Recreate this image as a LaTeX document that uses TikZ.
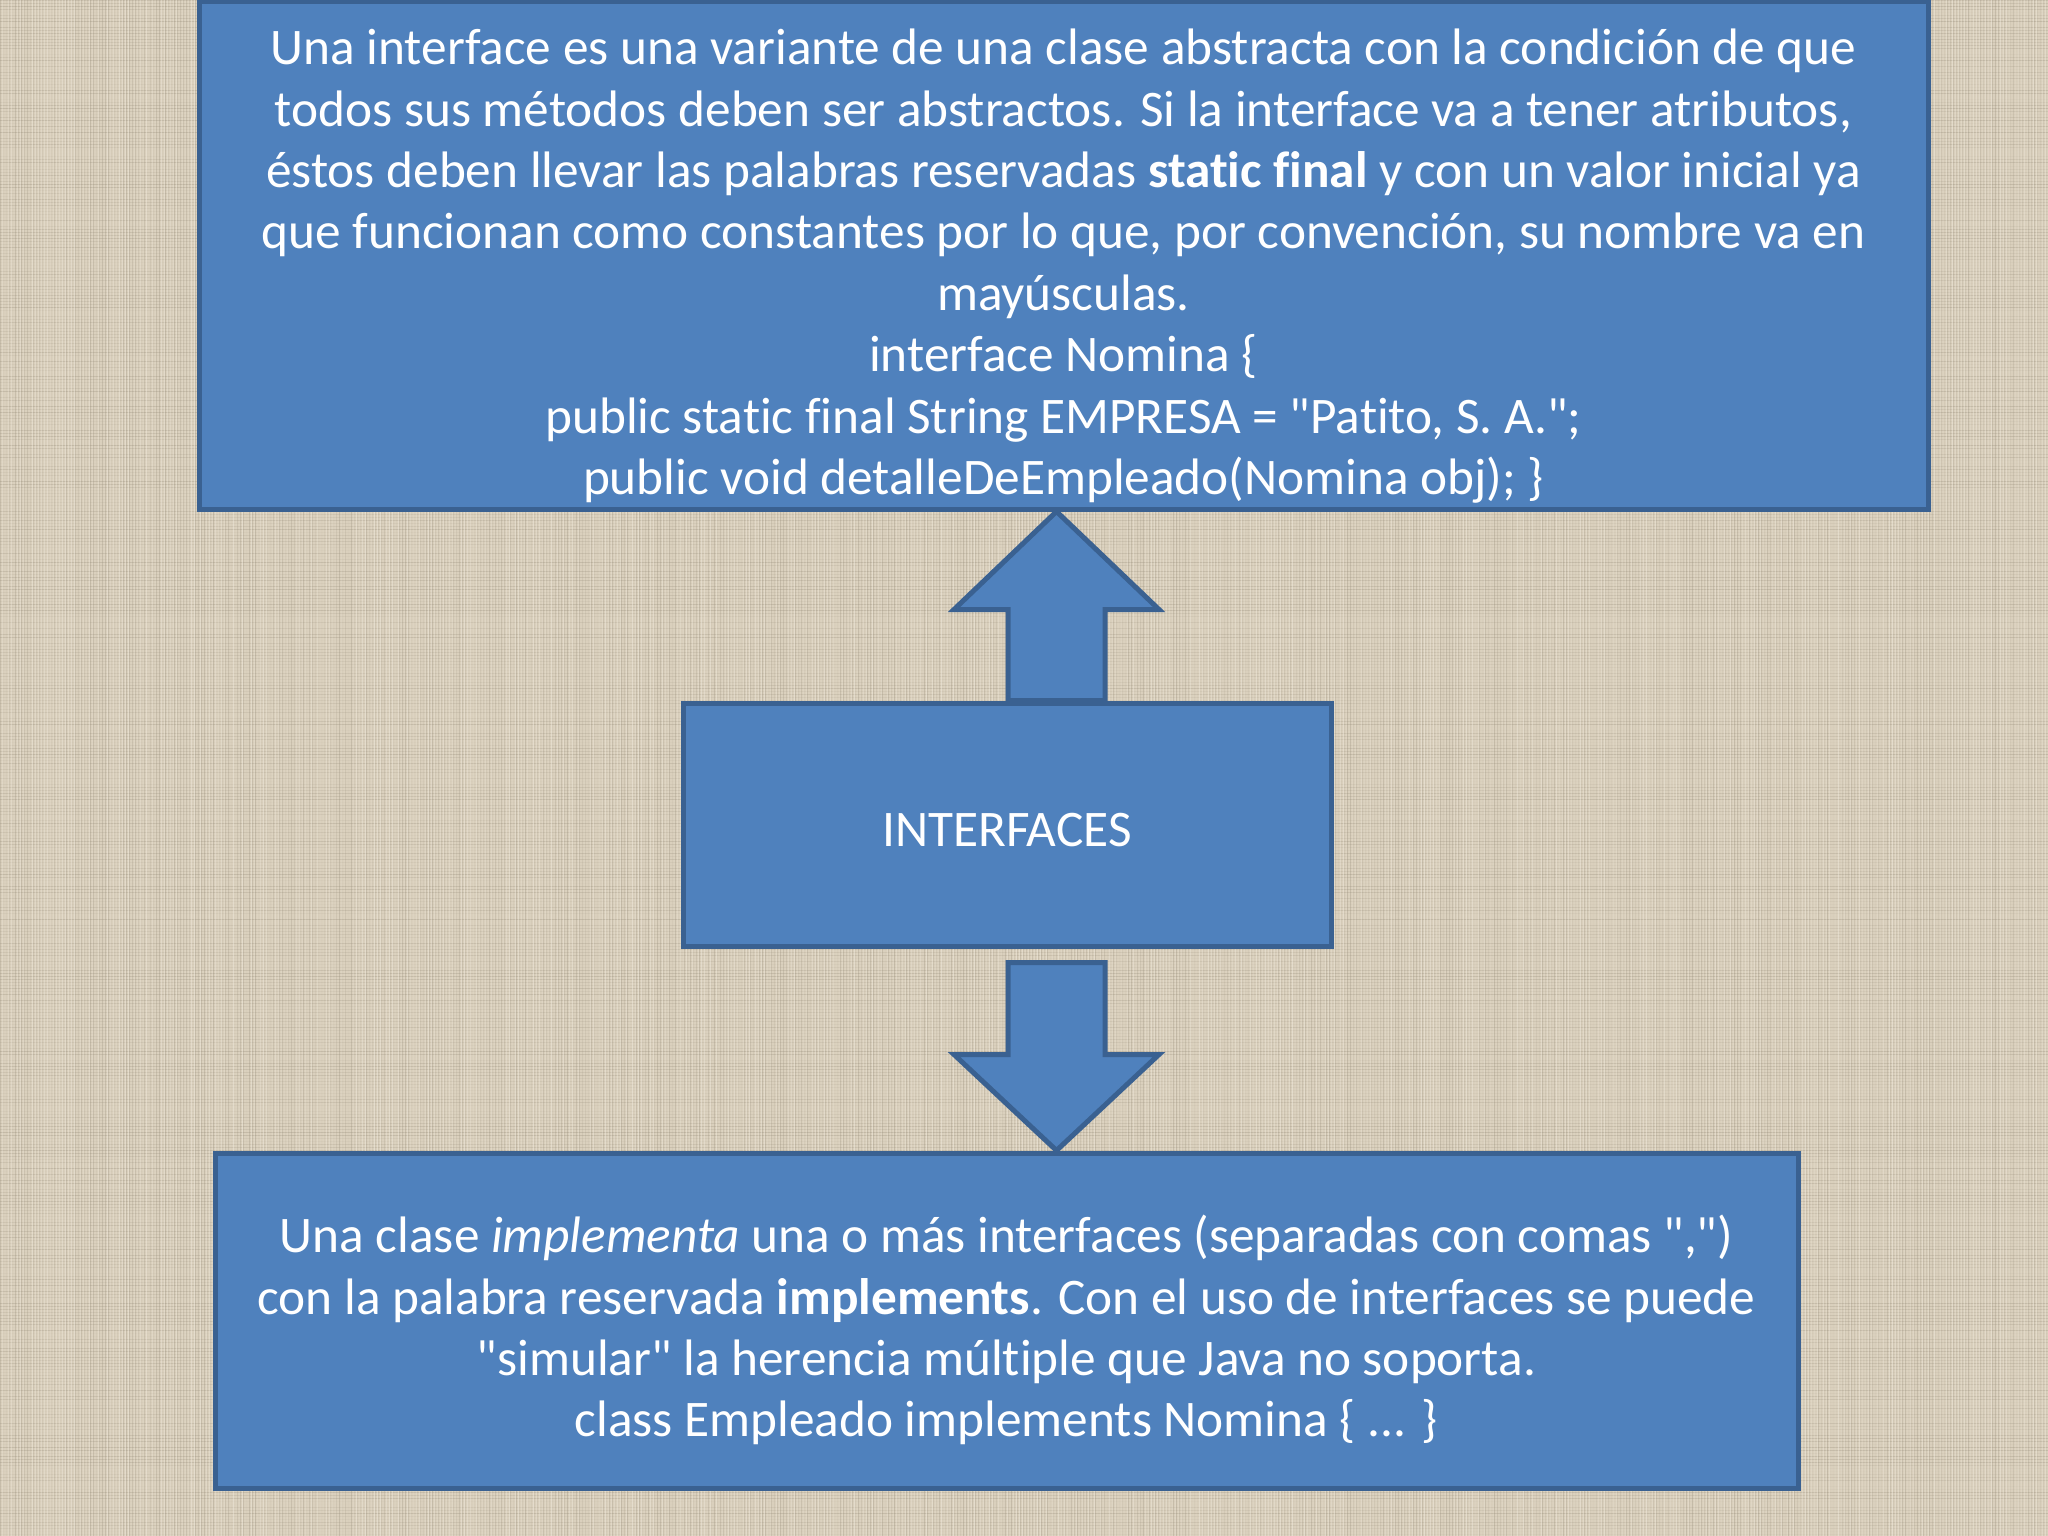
\documentclass[tikz,border=0pt]{standalone}
\usepackage{fontspec}
\setmainfont{Carlito}[Ligatures={NoCommon,TeXOff}]
\usetikzlibrary{calc}
\definecolor{bg}{HTML}{DAD0BD}
\definecolor{threaddark}{HTML}{9C927F}
\definecolor{threadlight}{HTML}{F4EEE2}
\definecolor{boxfill}{HTML}{4F81BD}
\definecolor{boxline}{HTML}{3A6191}
\newcommand\dq{\symbol{34}}
\newcommand\pushdown[1]{\rule{0pt}{#1}}
\pgfdeclarelayer{back}
\pgfsetlayers{back,main}
\begin{document}
\begin{tikzpicture}[x=1pt,y=-1pt,
  box/.style={draw=boxline, fill=boxfill, line width=5pt, text=white,
    align=center, font=\fontsize{51.3}{61.4}\selectfont, inner sep=0pt},
  arrowsty/.style={draw=boxline, fill=boxfill, line width=5pt, line join=miter}]
\useasboundingbox (0,0) rectangle (2048,1536);

% boxes
\node[box, minimum width=1729pt, minimum height=507pt] (top) at (1063.5,255.5)
 {\pushdown{57pt}Una interface es una variante de una clase abstracta con la condición de que\\
  todos sus métodos deben ser abstractos. Si la interface va a tener atributos,\\
  éstos deben llevar las palabras reservadas \textbf{static final} y con un valor inicial ya\\
  que funcionan como constantes por lo que, por convención, su nombre va en\\
  mayúsculas.\\
  interface Nomina \{\\
  public static final String EMPRESA = \dq Patito, S. A.\dq;\\
  public void detalleDeEmpleado(Nomina obj); \}};
\node[box, minimum width=648pt, minimum height=243pt] (mid) at (1007,824.5)
 {\pushdown{44pt}INTERFACES};
\node[box, minimum width=1583pt, minimum height=335pt] (bot) at (1006.5,1320.5)
 {\pushdown{57pt}Una clase \textit{implementa} una o más interfaces (separadas con comas \dq,\dq)\\
  con la palabra reservada \textbf{implements}. Con el uso de interfaces se puede\\
  \dq simular\dq{} la herencia múltiple que Java no soporta.\\
  class Empleado implements Nomina \{ ... \}};

\coordinate (ax) at (1056.5,0);

\begin{pgfonlayer}{back}
  \fill[bg] (0,0) rectangle (2048,1536);
  \pgfmathsetseed{7}
  \foreach \i in {0,3,...,2048}{
    \pgfmathsetmacro\o{rnd*0.35}
    \draw[line width=1pt, draw=threaddark, opacity=\o] (\i,0) -- (\i,1536);
  }
  \foreach \i in {1,4,...,1536}{
    \pgfmathsetmacro\o{rnd*0.35}
    \draw[line width=1pt, draw=threaddark, opacity=\o] (0,\i) -- (2048,\i);
  }
  \foreach \i in {2,5,...,2048}{
    \pgfmathsetmacro\o{rnd*0.45}
    \draw[line width=1pt, draw=threadlight, opacity=\o] (\i,0) -- (\i,1536);
  }
  % up arrow: from INTERFACES to the top box
  \draw[arrowsty] ($(ax|-mid.north)+(-48.5,0)$) -- ($(ax|-top.south)+(-48.5,98)$)
    -- ($(ax|-top.south)+(-102.5,98)$) -- (ax|-top.south)
    -- ($(ax|-top.south)+(102.5,98)$) -- ($(ax|-top.south)+(48.5,98)$)
    -- ($(ax|-mid.north)+(48.5,0)$) -- cycle;
  % down arrow: from INTERFACES to the bottom box
  \draw[arrowsty] ($(ax|-mid.south)+(-48.5,14)$) -- ($(ax|-bot.north)+(-48.5,-96)$)
    -- ($(ax|-bot.north)+(-102.5,-96)$) -- (ax|-bot.north)
    -- ($(ax|-bot.north)+(102.5,-96)$) -- ($(ax|-bot.north)+(48.5,-96)$)
    -- ($(ax|-mid.south)+(48.5,14)$) -- cycle;
\end{pgfonlayer}
\end{tikzpicture}
\end{document}
